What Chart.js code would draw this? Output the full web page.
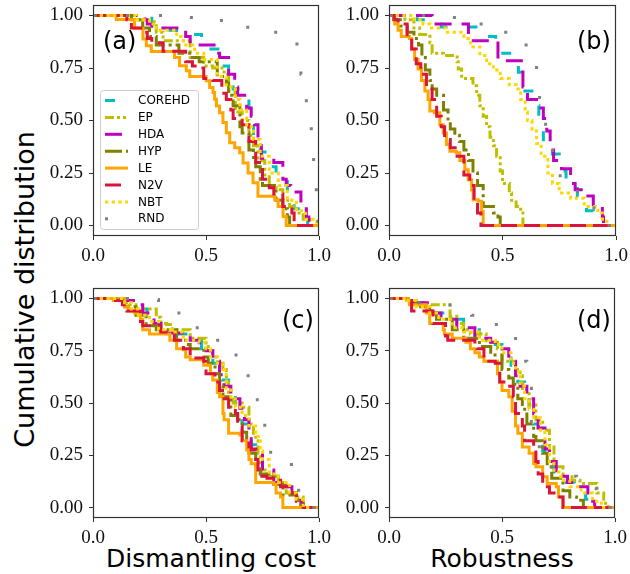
<!DOCTYPE html>
<html>
<head>
<meta charset="utf-8">
<script src="https://cdn.jsdelivr.net/npm/chart.js@4.4.1/dist/chart.umd.min.js"></script>
<style>
  body { margin: 0; width: 630px; height: 574px; background: #fff; position: relative; overflow: hidden; font-family: 'DejaVu Sans', sans-serif; }
  canvas { position: absolute; }
  .tag { position: absolute; font-size: 24px; line-height: 24px; color: #000; }
  .axt { position: absolute; font-size: 25px; line-height: 25px; width: 300px; text-align: center; color: #000; }
  .ylab { position: absolute; font-size: 27px; line-height: 27px; width: 340px; height: 27px; text-align: center; transform: rotate(-90deg); color: #000; }
</style>
</head>
<body>
<canvas id="pa" width="296" height="262" style="left:40px;top:0px"></canvas>
<canvas id="pb" width="294" height="262" style="left:336px;top:0px"></canvas>
<canvas id="pc" width="296" height="261" style="left:40px;top:283px"></canvas>
<canvas id="pd" width="294" height="261" style="left:336px;top:283px"></canvas>

<div class="tag" style="left:103px;top:29px">(a)</div>
<div class="tag" style="left:577px;top:29px">(b)</div>
<div class="tag" style="left:282px;top:308px">(c)</div>
<div class="tag" style="left:577px;top:308px">(d)</div>
<div class="axt" style="left:61px;top:546px">Dismantling cost</div>
<div class="axt" style="left:352px;top:546px">Robustness</div>
<div class="ylab" style="left:-146px;top:276px">Cumulative distribution</div>

<script>
const methods = ['COREHD', 'EP', 'HDA', 'HYP', 'LE', 'N2V', 'NBT', 'RND'];
const colors = ['#00bfbf', '#bfbf00', '#bf00bf', '#808000', '#ffa500', '#dc143c', '#ffd700', '#808080'];
const dashes = [[10, 20], [9, 3, 3, 3, 3, 3], [17, 10], [17, 4, 3, 4], [], [16, 7], [3.3, 3.4], [3, 30]];
const xTicks = [0, 0.5, 1];
const yTicks = [0, 0.25, 0.5, 0.75, 1];

// (a) dismantling cost, set 1
const a_COREHD = [[0,1],[0.26,0.96],[0.28,0.94],[0.33,0.93],[0.37,0.91],[0.48,0.87],[0.50,0.84],[0.56,0.76],[0.60,0.68],[0.62,0.65],[0.66,0.60],[0.69,0.53],[0.70,0.47],[0.71,0.41],[0.74,0.35],[0.78,0.28],[0.81,0.23],[0.82,0.21],[0.86,0.14],[0.89,0.08],[0.93,0.03],[0.95,0],[1,0]];
const a_EP = [[0,1],[0.20,0.98],[0.22,0.97],[0.28,0.92],[0.31,0.88],[0.43,0.80],[0.49,0.76],[0.53,0.75],[0.58,0.72],[0.60,0.64],[0.63,0.54],[0.66,0.50],[0.69,0.43],[0.71,0.38],[0.73,0.31],[0.76,0.24],[0.78,0.19],[0.81,0.17],[0.84,0.12],[0.87,0.09],[0.90,0.06],[0.93,0.03],[0.96,0],[1,0]];
const a_HDA = [[0,1],[0.23,0.98],[0.24,0.96],[0.26,0.94],[0.41,0.90],[0.43,0.86],[0.546,0.82],[0.56,0.80],[0.60,0.72],[0.627,0.66],[0.64,0.62],[0.68,0.56],[0.70,0.52],[0.715,0.48],[0.73,0.40],[0.745,0.32],[0.80,0.30],[0.84,0.22],[0.855,0.19],[0.875,0.16],[0.92,0.08],[0.944,0.04],[0.955,0],[1,0]];
const a_HYP = [[0,1],[0.17,0.98],[0.22,0.94],[0.25,0.90],[0.28,0.86],[0.38,0.82],[0.44,0.80],[0.47,0.78],[0.55,0.71],[0.59,0.68],[0.60,0.62],[0.62,0.57],[0.65,0.47],[0.66,0.44],[0.69,0.36],[0.71,0.31],[0.72,0.28],[0.74,0.22],[0.75,0.19],[0.81,0.12],[0.84,0.08],[0.86,0.04],[0.87,0],[1,0]];
const a_LE = [[0,1],[0.103,0.981],[0.184,0.939],[0.221,0.888],[0.236,0.856],[0.258,0.828],[0.361,0.80],[0.383,0.761],[0.413,0.737],[0.428,0.71],[0.501,0.689],[0.516,0.657],[0.531,0.633],[0.538,0.601],[0.546,0.569],[0.560,0.537],[0.575,0.49],[0.590,0.442],[0.605,0.394],[0.627,0.37],[0.649,0.346],[0.664,0.298],[0.686,0.25],[0.708,0.203],[0.730,0.139],[0.804,0.123],[0.819,0.091],[0.841,0.043],[0.855,0],[1,0]];
const a_N2V = [[0,1],[0.15,0.98],[0.17,0.94],[0.22,0.92],[0.24,0.89],[0.26,0.87],[0.31,0.83],[0.41,0.78],[0.44,0.76],[0.46,0.75],[0.49,0.70],[0.53,0.69],[0.57,0.63],[0.59,0.60],[0.61,0.55],[0.62,0.51],[0.66,0.48],[0.69,0.40],[0.72,0.30],[0.75,0.22],[0.78,0.18],[0.80,0.15],[0.84,0.09],[0.88,0.06],[0.89,0],[1,0]];
const a_NBT = [[0,1],[0.19,0.98],[0.25,0.96],[0.28,0.93],[0.37,0.90],[0.40,0.86],[0.45,0.82],[0.49,0.79],[0.55,0.71],[0.59,0.66],[0.63,0.60],[0.65,0.55],[0.68,0.47],[0.71,0.41],[0.74,0.33],[0.78,0.25],[0.82,0.19],[0.86,0.12],[0.90,0.07],[0.94,0.03],[0.99,0],[1,0]];
const a_RND = [[0,1],[0.34,0.99],[0.49,0.976],[0.63,0.944],[0.77,0.92],[0.88,0.864],[0.91,0.78],[0.92,0.72],[0.944,0.569],[0.966,0.41],[0.976,0.247],[0.988,0.075],[0.995,0],[1,0]];

// (b) robustness, set 1
const b_COREHD = [[0,1],[0.125,0.98],[0.17,0.96],[0.23,0.945],[0.40,0.90],[0.47,0.85],[0.48,0.82],[0.57,0.73],[0.585,0.64],[0.64,0.57],[0.66,0.50],[0.68,0.40],[0.72,0.34],[0.75,0.26],[0.78,0.20],[0.79,0.185],[0.83,0.14],[0.87,0.07],[0.90,0.01],[0.905,0],[1,0]];
const b_EP = [[0,1],[0.07,0.98],[0.11,0.94],[0.135,0.91],[0.18,0.87],[0.19,0.82],[0.24,0.81],[0.30,0.78],[0.305,0.745],[0.32,0.70],[0.37,0.665],[0.386,0.62],[0.40,0.57],[0.415,0.52],[0.43,0.47],[0.445,0.42],[0.46,0.38],[0.474,0.33],[0.49,0.26],[0.50,0.20],[0.53,0.155],[0.54,0.12],[0.56,0.09],[0.58,0.06],[0.59,0],[1,0]];
const b_HDA = [[0,1],[0.19,0.96],[0.35,0.88],[0.48,0.785],[0.59,0.66],[0.61,0.60],[0.65,0.56],[0.68,0.51],[0.695,0.45],[0.71,0.36],[0.725,0.31],[0.76,0.27],[0.80,0.20],[0.82,0.17],[0.865,0.14],[0.90,0.09],[0.94,0.04],[0.945,0],[1,0]];
const b_HYP = [[0,1],[0.02,0.98],[0.05,0.95],[0.08,0.92],[0.11,0.89],[0.13,0.86],[0.145,0.80],[0.16,0.74],[0.18,0.69],[0.19,0.65],[0.21,0.62],[0.24,0.55],[0.26,0.50],[0.27,0.46],[0.29,0.43],[0.31,0.40],[0.33,0.36],[0.35,0.31],[0.37,0.25],[0.39,0.19],[0.415,0.09],[0.46,0.06],[0.48,0.04],[0.49,0],[1,0]];
const b_LE = [[0,1],[0.025,0.96],[0.04,0.93],[0.054,0.90],[0.09,0.89],[0.10,0.84],[0.113,0.79],[0.128,0.745],[0.143,0.69],[0.158,0.64],[0.172,0.60],[0.18,0.545],[0.2,0.537],[0.224,0.48],[0.239,0.44],[0.253,0.386],[0.268,0.354],[0.297,0.346],[0.312,0.31],[0.334,0.266],[0.349,0.218],[0.364,0.17],[0.371,0.123],[0.393,0.115],[0.408,0.067],[0.415,0],[1,0]];
const b_N2V = [[0,1],[0.025,0.98],[0.04,0.96],[0.08,0.90],[0.10,0.84],[0.12,0.77],[0.14,0.72],[0.165,0.65],[0.19,0.60],[0.21,0.52],[0.23,0.47],[0.245,0.41],[0.27,0.37],[0.30,0.33],[0.33,0.24],[0.356,0.19],[0.375,0.13],[0.39,0.06],[0.405,0],[1,0]];
const b_NBT = [[0,1],[0.11,0.98],[0.15,0.96],[0.18,0.94],[0.25,0.92],[0.33,0.89],[0.36,0.85],[0.40,0.81],[0.43,0.77],[0.46,0.74],[0.49,0.70],[0.53,0.67],[0.56,0.65],[0.58,0.60],[0.60,0.54],[0.61,0.50],[0.63,0.45],[0.65,0.39],[0.67,0.33],[0.70,0.25],[0.72,0.20],[0.75,0.155],[0.80,0.13],[0.86,0.09],[0.92,0.06],[0.94,0.03],[0.96,0],[1,0]];
const b_RND = [[0,1],[0.17,0.99],[0.30,0.96],[0.44,0.92],[0.545,0.86],[0.62,0.76],[0.65,0.61],[0.69,0.47],[0.72,0.33],[0.754,0.195],[0.83,0.083],[0.92,0],[1,0]];

// (c) dismantling cost, set 2
const c_COREHD = [[0,1],[0.12,0.99],[0.18,0.95],[0.24,0.92],[0.30,0.85],[0.36,0.83],[0.43,0.80],[0.48,0.76],[0.53,0.69],[0.55,0.675],[0.57,0.61],[0.60,0.54],[0.63,0.48],[0.66,0.40],[0.68,0.39],[0.70,0.30],[0.72,0.24],[0.75,0.18],[0.77,0.15],[0.82,0.11],[0.87,0.07],[0.90,0.035],[0.93,0],[1,0]];
const c_EP = [[0,1],[0.14,0.98],[0.16,0.97],[0.19,0.95],[0.28,0.91],[0.30,0.88],[0.325,0.875],[0.35,0.85],[0.43,0.81],[0.50,0.77],[0.51,0.75],[0.53,0.72],[0.55,0.69],[0.575,0.66],[0.59,0.60],[0.60,0.52],[0.62,0.50],[0.66,0.48],[0.69,0.40],[0.71,0.355],[0.72,0.32],[0.73,0.26],[0.74,0.20],[0.75,0.18],[0.77,0.15],[0.82,0.12],[0.855,0.07],[0.90,0.05],[0.93,0.02],[0.94,0],[1,0]];
const c_HDA = [[0,1],[0.12,0.99],[0.19,0.97],[0.22,0.93],[0.27,0.88],[0.30,0.85],[0.32,0.835],[0.43,0.80],[0.47,0.77],[0.50,0.75],[0.53,0.70],[0.56,0.635],[0.58,0.58],[0.61,0.52],[0.65,0.475],[0.67,0.42],[0.69,0.34],[0.70,0.28],[0.72,0.26],[0.75,0.18],[0.80,0.12],[0.85,0.10],[0.88,0.06],[0.90,0.035],[0.92,0],[1,0]];
const c_HYP = [[0,1],[0.10,0.99],[0.14,0.96],[0.19,0.92],[0.235,0.87],[0.28,0.85],[0.37,0.80],[0.41,0.78],[0.43,0.76],[0.49,0.72],[0.51,0.69],[0.54,0.64],[0.56,0.58],[0.575,0.53],[0.60,0.515],[0.61,0.44],[0.64,0.42],[0.66,0.36],[0.68,0.30],[0.69,0.26],[0.72,0.20],[0.74,0.16],[0.80,0.11],[0.84,0.06],[0.90,0.035],[0.92,0],[1,0]];
const c_LE = [[0,1],[0.09,0.99],[0.14,0.96],[0.155,0.94],[0.185,0.93],[0.21,0.90],[0.22,0.85],[0.25,0.83],[0.34,0.80],[0.37,0.76],[0.40,0.755],[0.41,0.72],[0.43,0.707],[0.49,0.68],[0.52,0.64],[0.53,0.61],[0.55,0.55],[0.56,0.53],[0.575,0.45],[0.58,0.42],[0.60,0.355],[0.65,0.347],[0.66,0.32],[0.68,0.275],[0.69,0.23],[0.70,0.21],[0.72,0.12],[0.80,0.11],[0.81,0.07],[0.83,0.05],[0.84,0],[1,0]];
const c_N2V = [[0,1],[0.10,0.99],[0.13,0.97],[0.15,0.94],[0.21,0.89],[0.22,0.87],[0.30,0.84],[0.36,0.80],[0.40,0.76],[0.43,0.715],[0.49,0.70],[0.50,0.64],[0.54,0.60],[0.56,0.56],[0.58,0.52],[0.60,0.48],[0.63,0.45],[0.64,0.39],[0.66,0.32],[0.69,0.29],[0.70,0.275],[0.72,0.23],[0.73,0.17],[0.74,0.15],[0.77,0.14],[0.83,0.10],[0.87,0.07],[0.90,0.03],[0.93,0],[1,0]];
const c_NBT = [[0,1],[0.14,0.98],[0.17,0.95],[0.20,0.92],[0.25,0.89],[0.29,0.85],[0.35,0.84],[0.40,0.80],[0.47,0.79],[0.50,0.76],[0.52,0.72],[0.55,0.69],[0.575,0.66],[0.59,0.57],[0.61,0.52],[0.63,0.48],[0.66,0.44],[0.69,0.39],[0.72,0.34],[0.74,0.27],[0.75,0.23],[0.78,0.16],[0.82,0.12],[0.87,0.07],[0.90,0.04],[0.93,0],[1,0]];
const c_RND = [[0,1],[0.17,0.995],[0.29,0.94],[0.38,0.86],[0.49,0.80],[0.59,0.73],[0.667,0.63],[0.727,0.515],[0.76,0.37],[0.786,0.22],[0.878,0.14],[0.91,0.03],[0.93,0],[1,0]];

// (d) robustness, set 2
const d_COREHD = [[0,1],[0.10,0.98],[0.20,0.93],[0.26,0.90],[0.33,0.85],[0.40,0.80],[0.47,0.78],[0.50,0.73],[0.54,0.68],[0.57,0.60],[0.60,0.53],[0.62,0.46],[0.64,0.40],[0.66,0.35],[0.68,0.27],[0.70,0.21],[0.73,0.14],[0.76,0.12],[0.82,0.09],[0.87,0.04],[0.90,0],[1,0]];
const d_EP = [[0,1],[0.10,0.98],[0.12,0.97],[0.27,0.915],[0.30,0.88],[0.33,0.85],[0.36,0.83],[0.43,0.79],[0.48,0.76],[0.50,0.70],[0.56,0.66],[0.58,0.63],[0.59,0.56],[0.62,0.49],[0.65,0.42],[0.68,0.37],[0.71,0.29],[0.73,0.195],[0.77,0.147],[0.81,0.13],[0.845,0.115],[0.92,0.07],[0.95,0.02],[0.97,0],[1,0]];
const d_HDA = [[0,1],[0.10,0.98],[0.19,0.93],[0.23,0.90],[0.30,0.86],[0.38,0.81],[0.45,0.79],[0.49,0.76],[0.53,0.70],[0.56,0.63],[0.58,0.58],[0.61,0.52],[0.64,0.45],[0.66,0.38],[0.69,0.28],[0.71,0.22],[0.74,0.15],[0.79,0.12],[0.83,0.10],[0.88,0.03],[0.91,0],[1,0]];
const d_HYP = [[0,1],[0.09,0.99],[0.12,0.97],[0.14,0.96],[0.18,0.93],[0.21,0.90],[0.28,0.85],[0.33,0.81],[0.40,0.77],[0.45,0.73],[0.50,0.66],[0.53,0.62],[0.55,0.59],[0.57,0.52],[0.59,0.47],[0.61,0.40],[0.64,0.34],[0.65,0.32],[0.68,0.26],[0.70,0.195],[0.72,0.14],[0.77,0.08],[0.80,0.05],[0.83,0.035],[0.86,0],[1,0]];
const d_LE = [[0,1],[0.077,0.99],[0.09,0.97],[0.165,0.93],[0.18,0.88],[0.24,0.85],[0.245,0.83],[0.28,0.81],[0.34,0.79],[0.36,0.76],[0.38,0.74],[0.40,0.72],[0.42,0.70],[0.48,0.64],[0.49,0.60],[0.50,0.56],[0.53,0.53],[0.545,0.46],[0.56,0.39],[0.57,0.355],[0.59,0.29],[0.62,0.26],[0.64,0.21],[0.65,0.195],[0.68,0.147],[0.70,0.115],[0.74,0.10],[0.75,0.05],[0.77,0],[1,0]];
const d_N2V = [[0,1],[0.07,0.99],[0.10,0.94],[0.195,0.88],[0.25,0.82],[0.26,0.80],[0.38,0.78],[0.39,0.76],[0.42,0.70],[0.47,0.69],[0.49,0.60],[0.52,0.58],[0.55,0.53],[0.56,0.45],[0.59,0.39],[0.60,0.32],[0.64,0.29],[0.65,0.22],[0.66,0.16],[0.68,0.10],[0.71,0.07],[0.74,0.05],[0.77,0],[1,0]];
const d_NBT = [[0,1],[0.08,0.99],[0.12,0.96],[0.18,0.93],[0.22,0.90],[0.28,0.86],[0.33,0.84],[0.40,0.80],[0.47,0.78],[0.50,0.74],[0.54,0.69],[0.56,0.65],[0.58,0.58],[0.60,0.52],[0.62,0.47],[0.64,0.43],[0.67,0.36],[0.69,0.30],[0.71,0.22],[0.73,0.17],[0.76,0.13],[0.80,0.10],[0.85,0.07],[0.90,0.03],[0.94,0],[1,0]];
const d_RND = [[0,1],[0.13,0.98],[0.27,0.93],[0.365,0.92],[0.475,0.86],[0.56,0.70],[0.61,0.57],[0.63,0.41],[0.665,0.27],[0.72,0.15],[0.83,0.09],[0.92,0],[1,0]];

const tickFont = { family: "'Liberation Serif', serif", size: 19 };
const axisColor = '#333';

// box around the plot area, like matplotlib spines
const framePlugin = {
    id: 'frame',
    afterDraw(chart) {
        const { ctx, chartArea } = chart;
        const l = Math.round(chartArea.left) + 0.5, t = Math.round(chartArea.top) + 0.5;
        const r = Math.round(chartArea.right) - 0.5, b = Math.round(chartArea.bottom) - 0.5;
        ctx.save();
        ctx.strokeStyle = axisColor;
        ctx.lineWidth = 1.2;
        ctx.strokeRect(l, t, r - l, b - t);
        ctx.restore();
    }
};

// legend box inside panel (a)
const legendPlugin = {
    id: 'methodLegend',
    afterDraw(chart, args, opts) {
        if (!opts.show) return;
        const { ctx, chartArea } = chart;
        const x0 = chartArea.left + 7, y0 = chartArea.top + 85;
        const w = 98, h = 139;
        ctx.save();
        ctx.beginPath();
        ctx.roundRect(x0 + 0.5, y0 + 0.5, w, h, 3);
        ctx.fillStyle = 'rgba(255,255,255,0.8)';
        ctx.fill();
        ctx.strokeStyle = '#cccccc';
        ctx.lineWidth = 1;
        ctx.stroke();
        ctx.font = "12px 'DejaVu Sans', sans-serif";
        ctx.textBaseline = 'middle';
        chart.data.datasets.forEach((ds, i) => {
            const yy = y0 + 10.5 + i * 16.9;
            ctx.beginPath();
            ctx.setLineDash(ds.borderDash);
            ctx.strokeStyle = ds.borderColor;
            ctx.lineWidth = 3;
            ctx.moveTo(x0 + 5, yy);
            ctx.lineTo(x0 + 28, yy);
            ctx.stroke();
            ctx.setLineDash([]);
            ctx.fillStyle = '#000';
            ctx.fillText(ds.label, x0 + 38, yy + 0.5);
        });
        ctx.restore();
    }
};

function makePanel(id, series, showLegend, rightPad) {
    new Chart(document.getElementById(id), {
        type: 'line',
        data: {
            datasets: methods.map((m, i) => ({
                label: m,
                data: series[i].map(p => ({ x: p[0], y: p[1] })),
                borderColor: colors[i],
                borderWidth: 3,
                borderDash: dashes[i],
                stepped: 'before',
                pointRadius: 0,
                fill: false,
                order: methods.length - i
            }))
        },
        options: {
            responsive: false,
            animation: false,
            events: [],
            layout: { padding: { top: 5, right: rightPad, left: 0, bottom: 0 } },
            plugins: {
                legend: { display: false },
                tooltip: { enabled: false },
                methodLegend: { show: showLegend }
            },
            scales: {
                x: {
                    type: 'linear', min: 0, max: 1,
                    afterBuildTicks: s => { s.ticks = xTicks.map(v => ({ value: v })); },
                    afterFit: s => { s.height = 26; s.paddingLeft = 0; s.paddingRight = 0; },
                    border: { display: false },
                    grid: { drawOnChartArea: false, tickLength: 4, color: axisColor },
                    ticks: { font: tickFont, color: '#111', padding: 5, maxRotation: 0, autoSkip: false,
                             callback: v => v.toFixed(1) }
                },
                y: {
                    type: 'linear', min: -0.05, max: 1.05,
                    afterBuildTicks: s => { s.ticks = yTicks.map(v => ({ value: v })); },
                    afterFit: s => { s.width = 53; s.paddingTop = 0; s.paddingBottom = 0; },
                    border: { display: false },
                    grid: { drawOnChartArea: false, tickLength: 4, color: axisColor },
                    ticks: { font: tickFont, color: '#111', padding: 6, autoSkip: false,
                             callback: v => v.toFixed(2) }
                }
            }
        },
        plugins: [framePlugin, legendPlugin]
    });
}

makePanel('pa', [a_COREHD, a_EP, a_HDA, a_HYP, a_LE, a_N2V, a_NBT, a_RND], true, 17);
makePanel('pb', [b_COREHD, b_EP, b_HDA, b_HYP, b_LE, b_N2V, b_NBT, b_RND], false, 14);
makePanel('pc', [c_COREHD, c_EP, c_HDA, c_HYP, c_LE, c_N2V, c_NBT, c_RND], false, 17);
makePanel('pd', [d_COREHD, d_EP, d_HDA, d_HYP, d_LE, d_N2V, d_NBT, d_RND], false, 15);
</script>
</body>
</html>
